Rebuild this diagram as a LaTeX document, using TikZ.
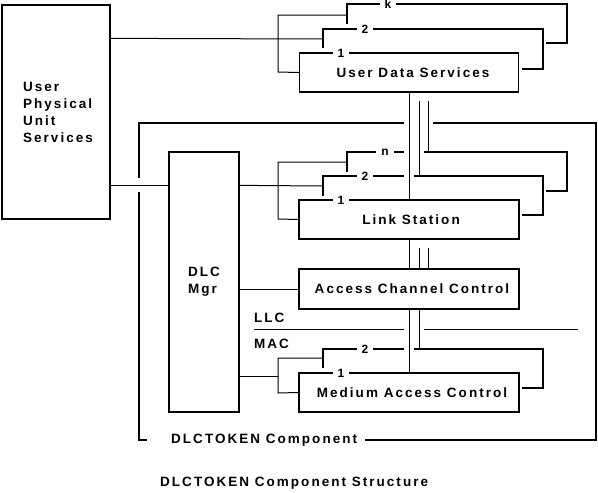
\documentclass[tikz,border=0pt]{standalone}
\usepackage{fontspec}
\setmainfont{Liberation Sans}[LetterSpace=15]
\usetikzlibrary{calc}

\begin{document}
\begin{tikzpicture}[
  x=1pt, y=-1pt,
  every node/.style={font=\fontsize{13.5}{17}\selectfont\bfseries},
  box/.style={draw, line width=1.3pt, inner sep=0pt},
  stack/.style={line width=1.3pt},
  wire/.style={line width=1pt},
  gapwire/.style={wire, preaction={draw=white, line width=#1, shorten <=6pt, shorten >=6pt}},
  gapwire/.default=10pt,
  frame/.style={line width=1.8pt},
  tag/.style={fill=white, inner xsep=5pt, inner ysep=1pt, font=\fontsize{12}{14}\selectfont\bfseries}
]
    \useasboundingbox (0,0) rectangle (598,493);

    % User Physical Unit Services
    \node[box, minimum width=108pt, minimum height=214pt, align=left] (upus) at (56,112)
        {\hspace*{4pt}User\\\hspace*{4pt}Physical\\\hspace*{4pt}Unit\\\hspace*{4pt}Services};

    % User Data Services (copies k, 2, 1)
    \draw[stack] (347,24) -- (347,4) -- (567,4) -- (567,43) -- (546,43);
    \node[tag] (udsk) at (388,4) {k};
    \draw[stack] (323,48) -- (323,29) -- (543,29) -- (543,69) -- (522,69);
    \node[tag] (uds2) at (365,29) {2};
    \node[box, minimum width=219pt, minimum height=39pt] (uds) at (409,72.5) {\hspace*{8pt}User Data Services};
    \node[tag] (uds1) at (341,53) {1};
    \coordinate (udsbus) at (278,15);
    \draw[wire] (347,15) -- (udsbus) -- (278,72) -- (uds.west);
    \draw[wire] ($(upus.north east)+(0,34)$) -- (323,39);

    % DLCTOKEN Component frame
    \node[anchor=west, inner sep=0pt] (comp) at (171,440) {DLCTOKEN Component};
    \draw[frame] ($(comp.east)+(8,0)$) -- (596,440) -- (596,123) -- (139,123) -- (139,440) -- (147,440);

    % DLC Mgr
    \node[box, minimum width=70pt, minimum height=260pt, align=left] (mgr) at (204,282) {DLC\\Mgr};
    \draw[gapwire=14pt] ($(upus.north east)+(0,181)$) -- ($(mgr.north west)+(0,34)$);

    % Link Station (copies n, 2, 1)
    \draw[stack] (347,172) -- (347,152) -- (567,152) -- (567,191) -- (546,191);
    \node[tag] (lsn) at (385,152) {n};
    \draw[stack] (323,196) -- (323,176) -- (543,176) -- (543,215) -- (522,215);
    \node[tag] (ls2) at (365,176) {2};
    \node[box, minimum width=220pt, minimum height=39pt] (ls) at (409,219.5) {\hspace*{4pt}Link Station};
    \node[tag] (ls1) at (341,200) {1};
    \coordinate (lsbus) at (278,162);
    \draw[wire] (347,162) -- (lsbus) -- (278,219) -- (ls.west);
    \draw[wire] ($(mgr.north east)+(0,34)$) -- (323,186);

    % Access Channel Control
    \node[box, minimum width=220pt, minimum height=40pt] (acc) at (409,289) {\hspace*{6pt}Access Channel Control};
    \draw[wire] (mgr.east |- acc.west) -- (acc.west);

    % LLC / MAC boundary
    \node[anchor=west, inner sep=0pt] (llc) at (254,318) {LLC};
    \node[anchor=west, inner sep=0pt] (macl) at (254,344) {MAC};
    \draw[wire] (254,329) -- (578,329);

    % Medium Access Control (copies 2, 1)
    \draw[stack] (323,368) -- (323,349) -- (543,349) -- (543,388) -- (522,388);
    \node[tag] (mac2) at (365,349) {2};
    \node[box, minimum width=220pt, minimum height=39pt] (mac) at (409,392.5) {\hspace*{6pt}Medium Access Control};
    \node[tag] (mac1) at (341,373) {1};
    \coordinate (macbus) at (278,376);
    \draw[wire] (323,358) -- (278,358) -- (278,393) -- (mac.west);
    \draw[wire] (mgr.east |- macbus) -- (macbus);

    % vertical links
    \draw[gapwire] (uds.south) -- (ls.north);
    \draw[gapwire] ($(uds.south)+(10,8)$) -- (419,176);
    \draw[gapwire] ($(uds.south)+(19,8)$) -- (428,152);
    \draw[wire] (ls.south) -- (acc.north);
    \draw[wire] ($(ls.south)+(10,8)$) -- ($(acc.north)+(10,0)$);
    \draw[wire] ($(ls.south)+(19,8)$) -- ($(acc.north)+(19,0)$);
    \draw[gapwire] (acc.south) -- (mac.north);
    \draw[gapwire] ($(acc.south)+(10,0)$) -- (419,349);

    % caption
    \node[anchor=west, inner sep=0pt] (title) at (160,483) {DLCTOKEN Component Structure};
\end{tikzpicture}
\end{document}
